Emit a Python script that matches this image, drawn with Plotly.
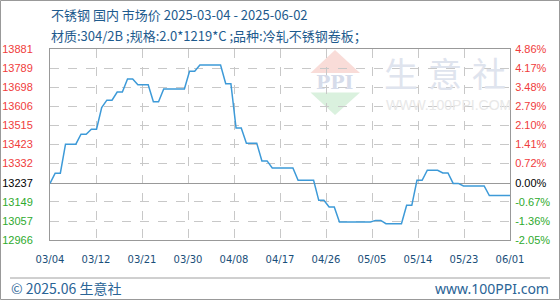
import plotly.graph_objects as go
import pandas as pd
import math

# ---------------- data ----------------
start_date = "2025-03-04"
prices = [
    13237, 13286, 13286, 13425, 13425, 13425, 13473, 13473, 13497, 13497,
    13600, 13636, 13636, 13675, 13675, 13737, 13737, 13710, 13710, 13710,
    13628, 13628, 13689, 13689, 13689, 13689, 13689, 13774, 13774, 13804,
    13804, 13804, 13804, 13804, 13715, 13715, 13502, 13502, 13430, 13430,
    13430, 13345, 13345, 13311, 13311, 13311, 13311, 13311, 13252, 13252,
    13252, 13252, 13156, 13156, 13124, 13124, 13052, 13052, 13052, 13052,
    13052, 13052, 13052, 13060, 13060, 13044, 13044, 13044, 13044, 13132,
    13132, 13252, 13252, 13300, 13300, 13300, 13287, 13287, 13237, 13237,
    13225, 13225, 13225, 13225, 13225, 13179, 13179, 13179, 13179, 13179,
]
base_price = 13237
left_ticks = [13881, 13789, 13698, 13606, 13515, 13423, 13332, 13237, 13149, 13057, 12966]
right_ticks = [4.86, 4.17, 3.48, 2.79, 2.10, 1.41, 0.72, 0.00, -0.67, -1.36, -2.05]
n_xticks = 10

title1 = "不锈钢 国内 市场价 2025-03-04 - 2025-06-02"
title2 = "材质:304/2B ;规格:2.0*1219*C ;品种:冷轧不锈钢卷板；"
footer_left = "© 2025.06 生意社"
footer_right = "www.100PPI.com"

# ---------------- derived ----------------
dates = pd.date_range(start_date, periods=len(prices), freq="D")
pct = [(p / base_price - 1) * 100 for p in prices]
span = (len(prices) - 1)
xtickvals, xticktext = [], []
for i in range(n_xticks + 1):
    off = span * i / n_xticks
    xtickvals.append(dates[0] + pd.Timedelta(days=off))
    xticktext.append((dates[0] + pd.Timedelta(days=math.floor(off + 1e-9))).strftime("%m/%d"))

RED, GREEN, BLACK = "#f03c3c", "#2eaa2e", "#000000"
def col(v, b):
    return RED if v > b else (BLACK if v == b else GREEN)

lt_text = [f"<span style='color:{col(v, base_price)}'>{v}</span>" for v in left_ticks]
rt_vals = [(t / base_price - 1) * 100 for t in left_ticks]
rt_text = [f"<span style='color:{col(v, 0)}'>{v:.2f}%</span>" for v in right_ticks]

W, H = 560, 300
ML, MR, MT, MB = 50, 50, 49, 60
PW, PH = W - ML - MR, H - MT - MB
def px(X):
    return (X - ML) / PW
def py(Y):
    return (H - MB - Y) / PH

fig = go.Figure()
fig.add_trace(go.Scatter(x=dates, y=prices, mode="lines",
                         line=dict(color="#3d9ad8", width=1.5),
                         hoverinfo="skip", showlegend=False))
fig.add_trace(go.Scatter(x=dates, y=pct, yaxis="y2", mode="lines",
                         line=dict(width=0, color="rgba(0,0,0,0)"),
                         hoverinfo="skip", showlegend=False))

tickfont = dict(family="Liberation Sans", size=11, color="#000")
fig.update_layout(
    width=W, height=H,
    margin=dict(l=ML, r=MR, t=MT, b=MB, pad=0, autoexpand=False),
    paper_bgcolor="white", plot_bgcolor="white",
    showlegend=False,
    xaxis=dict(type="date", range=[dates[0], dates[-1]], automargin=False,
               tickvals=xtickvals, ticktext=xticktext,
               tickfont=dict(family="DejaVu Sans", size=10, color="#1a4f7a"),
               showgrid=True, gridcolor="#c8c8c8", griddash="dash", gridwidth=1,
               showline=True, linecolor="#999", linewidth=1, mirror=True,
               ticks="outside", ticklen=10, tickcolor="rgba(0,0,0,0)", zeroline=False),
    yaxis=dict(range=[left_ticks[-1], left_ticks[0]], automargin=False,
               tickvals=left_ticks, ticktext=lt_text, tickfont=tickfont,
               showgrid=True, gridcolor="#c8c8c8", griddash="dash", gridwidth=1,
               showline=True, linecolor="#999", linewidth=1, mirror=True,
               ticks="outside", ticklen=14, tickcolor="rgba(0,0,0,0)", zeroline=False),
    yaxis2=dict(overlaying="y", side="right", automargin=False,
                range=[rt_vals[-1], rt_vals[0]],
                tickvals=rt_vals, ticktext=rt_text, tickfont=tickfont,
                showgrid=False, zeroline=True, zerolinecolor="#999", zerolinewidth=1,
                showline=False, ticks="outside", ticklen=2, tickcolor="rgba(0,0,0,0)"),
)

ann = []
def add_text(text, X, Y, anchor, family, size, color):
    ann.append(dict(text=text, x=px(X), y=py(Y), xref="paper", yref="paper",
                    xanchor=anchor, yanchor="middle", align=anchor,
                    showarrow=False, borderpad=0,
                    font=dict(family=family, size=size, color=color)))

add_text(title1, 50, 15, "left", "Noto Sans CJK SC", 13, "#1e5b8e")
add_text(title2, 50, 35, "left", "Noto Sans CJK SC", 13, "#1e5b8e")
add_text(footer_left, 10, 288, "left", "Noto Sans CJK SC", 14, "#2a6496")
add_text(footer_right, 550, 288, "right", "Noto Sans", 14, "#2a6496")
# watermark
for ch, cx in zip("生意社", [401, 445, 489]):
    add_text(ch, cx, 72, "center", "Noto Sans CJK SC", 34, "#dfe4ee")
add_text("WWW.100PPI.COM", 385, 105, "left", "Liberation Sans", 14, "#e8e8e8")
add_text("<b>PPI</b>", 335, 82, "center", "DejaVu Serif", 19, "#d6dcea")
fig.update_layout(annotations=ann)

shapes = []
shapes.append(dict(type="path", xref="paper", yref="paper", layer="below",
                   path=f"M {px(310.5)} {py(73)} L {px(335)} {py(50)} L {px(360)} {py(73)} Z",
                   fillcolor="#f9dcd8", line=dict(width=0)))
shapes.append(dict(type="path", xref="paper", yref="paper", layer="below",
                   path=f"M {px(310.5)} {py(92.5)} L {px(360)} {py(92.5)} L {px(335)} {py(115)} Z",
                   fillcolor="#daf1de", line=dict(width=0)))
shapes.append(dict(type="line", xref="paper", yref="paper",
                   x0=px(10), x1=px(550), y0=py(278), y1=py(278),
                   line=dict(color="#a0a0a0", width=1)))
shapes.append(dict(type="rect", xref="paper", yref="paper",
                   x0=px(0.5), x1=px(559.5), y0=py(0.5), y1=py(299.5),
                   line=dict(color="#999", width=1)))
fig.update_layout(shapes=shapes)

fig.write_html("out.html")
